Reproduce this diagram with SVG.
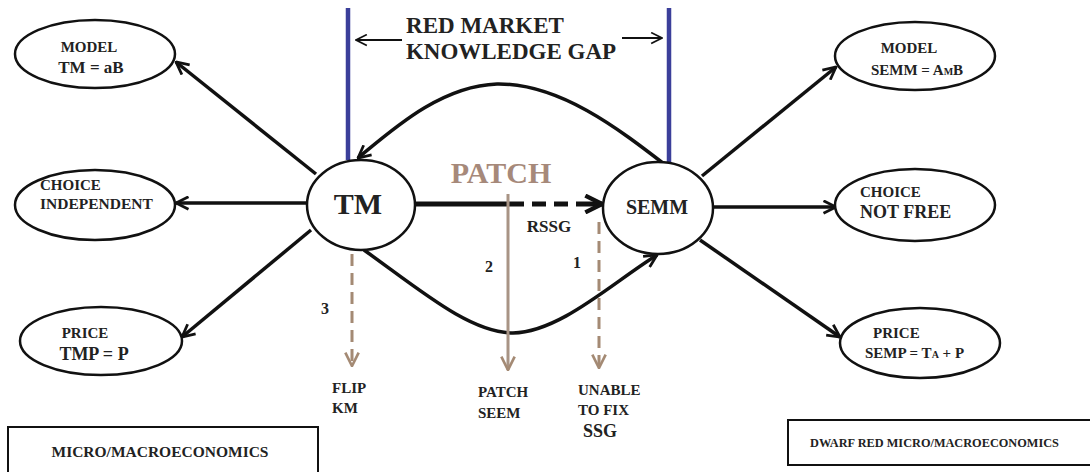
<svg xmlns="http://www.w3.org/2000/svg" width="1090" height="472" viewBox="0 0 1090 472">
<defs>
<style>
.node ellipse{fill:#fff;stroke:#111;stroke-width:2.5}
.t{font-family:"Liberation Serif","Times New Roman",serif;font-weight:bold;fill:#222}
.s15{font-size:15px}
.conn{fill:none;stroke:#111;stroke-width:3.5}
.tan{fill:none;stroke:#a48a74;stroke-width:3}
.tanS{fill:none;stroke:#a89485;stroke-width:3}
.blue{stroke:#3b3f9a;stroke-width:4.5}
</style>
<marker id="ah" viewBox="0 0 12 12" refX="11" refY="6" markerWidth="15" markerHeight="15" markerUnits="userSpaceOnUse" orient="auto">
<path d="M1,1 L11,6 L1,11" fill="none" stroke="#111" stroke-width="2.2"/>
</marker>
<marker id="ahBig" viewBox="0 0 12 12" refX="11" refY="6" markerWidth="20" markerHeight="20" markerUnits="userSpaceOnUse" orient="auto">
<path d="M1,1 L11,6 L1,11" fill="none" stroke="#111" stroke-width="2.6"/>
</marker>
<marker id="ahTan" viewBox="0 0 12 12" refX="11" refY="6" markerWidth="16" markerHeight="16" markerUnits="userSpaceOnUse" orient="auto">
<path d="M1,1 L11,6 L1,11" fill="none" stroke="#a48a74" stroke-width="2"/>
</marker>
<marker id="ahThin" viewBox="0 0 12 12" refX="11" refY="6" markerWidth="13" markerHeight="13" markerUnits="userSpaceOnUse" orient="auto">
<path d="M1,1 L11,6 L1,11" fill="none" stroke="#111" stroke-width="1.6"/>
</marker>
</defs>
<rect width="1090" height="472" fill="#fff"/>

<g id="connectors">
<line class="blue" x1="348" y1="8" x2="348" y2="160"/>
<line class="blue" x1="669" y1="8" x2="669" y2="168"/>
<line x1="402" y1="40" x2="356" y2="40" stroke="#111" stroke-width="1.8" marker-end="url(#ahThin)"/>
<line x1="622" y1="38" x2="662" y2="38" stroke="#111" stroke-width="1.8" marker-end="url(#ahThin)"/>
<line class="conn" x1="316" y1="174" x2="176" y2="62" marker-end="url(#ah)"/>
<line class="conn" x1="307" y1="203" x2="176" y2="203" marker-end="url(#ah)"/>
<line class="conn" x1="311" y1="230" x2="182" y2="337" marker-end="url(#ah)"/>
<line class="conn" x1="702" y1="176" x2="836" y2="67" marker-end="url(#ah)"/>
<line class="conn" x1="713" y1="207" x2="836" y2="207" marker-end="url(#ah)"/>
<line class="conn" x1="700" y1="240" x2="840" y2="337" marker-end="url(#ah)"/>
<path class="conn" d="M668,167 C620,130 560,83 497,84 C440,86 392,130 358,158" marker-end="url(#ah)"/>
<path class="conn" d="M364,250 C420,290 470,333 513,333 C560,332 612,283 657,255" marker-end="url(#ah)"/>
<line x1="415" y1="204" x2="510" y2="204" stroke="#111" stroke-width="5"/>
<line x1="510" y1="204" x2="590" y2="204" stroke="#111" stroke-width="5" stroke-dasharray="14,8"/>
<line x1="590" y1="204" x2="602" y2="204" stroke="#111" stroke-width="5" marker-end="url(#ahBig)"/>
<line class="tanS" x1="508" y1="194" x2="508" y2="370" marker-end="url(#ahTan)"/>
<line class="tan" x1="599" y1="222" x2="599" y2="368" stroke-dasharray="12,7" marker-end="url(#ahTan)"/>
<line class="tan" x1="352" y1="254" x2="352" y2="366" stroke-dasharray="12,7" marker-end="url(#ahTan)"/>
</g>

<g id="gap-label">
<text class="t" x="485" y="33" font-size="23" text-anchor="middle">RED MARKET</text>
<text class="t" x="511" y="59" font-size="23" text-anchor="middle">KNOWLEDGE GAP</text>
</g>

<g id="patch-label">
<text class="t" x="501" y="183" font-size="30" text-anchor="middle" style="fill:#a6897a">PATCH</text>
<text class="t" x="549" y="232" font-size="17" text-anchor="middle">RSSG</text>
</g>

<g id="node-tm" class="node">
<ellipse cx="361" cy="205" rx="54" ry="45"/>
<text class="t" x="358" y="214" font-size="30" text-anchor="middle">TM</text>
</g>
<g id="node-semm" class="node">
<ellipse cx="658" cy="208" rx="55" ry="46"/>
<text class="t" x="657" y="214" font-size="20" text-anchor="middle">SEMM</text>
</g>

<g id="node-model-tm" class="node">
<ellipse cx="95" cy="54" rx="80" ry="34"/>
<text class="t s15" x="89" y="52" text-anchor="middle">MODEL</text>
<text class="t" x="91" y="73" font-size="17" text-anchor="middle">TM = aB</text>
</g>
<g id="node-choice-tm" class="node">
<ellipse cx="95" cy="205" rx="80" ry="35"/>
<text class="t s15" x="40" y="190">CHOICE</text>
<text class="t" x="40" y="209" font-size="15.5">INDEPENDENT</text>
</g>
<g id="node-price-tm" class="node">
<ellipse cx="101" cy="341" rx="81" ry="34"/>
<text class="t s15" x="85" y="338" text-anchor="middle">PRICE</text>
<text class="t" x="94" y="360" font-size="18" text-anchor="middle">TMP = P</text>
</g>

<g id="node-model-semm" class="node">
<ellipse cx="915" cy="56" rx="80" ry="34"/>
<text class="t s15" x="909" y="53" text-anchor="middle">MODEL</text>
<text class="t s15" x="917" y="75" text-anchor="middle">SEMM = A<tspan font-size="10">M</tspan>B</text>
</g>
<g id="node-choice-semm" class="node">
<ellipse cx="915" cy="205" rx="80" ry="36"/>
<text class="t s15" x="860" y="197">CHOICE</text>
<text class="t" x="860" y="218" font-size="18">NOT FREE</text>
</g>
<g id="node-price-semp" class="node">
<ellipse cx="920" cy="343" rx="80" ry="35"/>
<text class="t s15" x="873" y="338">PRICE</text>
<text class="t s15" x="865" y="358">SEMP = T<tspan font-size="10">A</tspan> + P</text>
</g>

<g id="step-labels">
<text class="t" x="325" y="314" font-size="16" text-anchor="middle">3</text>
<text class="t" x="489" y="272" font-size="16" text-anchor="middle">2</text>
<text class="t" x="577" y="268" font-size="16" text-anchor="middle">1</text>
<text class="t s15" x="332" y="393">FLIP</text>
<text class="t s15" x="332" y="413">KM</text>
<text class="t s15" x="478" y="397">PATCH</text>
<text class="t s15" x="478" y="418">SEEM</text>
<text class="t s15" x="578" y="395">UNABLE</text>
<text class="t s15" x="578" y="415">TO FIX</text>
<text class="t" x="583" y="437" font-size="18">SSG</text>
</g>

<g id="box-left">
<rect x="8" y="427" width="310" height="50" fill="#fff" stroke="#111" stroke-width="2"/>
<text class="t" x="160" y="457" font-size="15.5" text-anchor="middle">MICRO/MACROECONOMICS</text>
</g>
<g id="box-right">
<rect x="788" y="420" width="305" height="45" fill="#fff" stroke="#111" stroke-width="2"/>
<text class="t" x="810" y="447" font-size="12.3">DWARF RED MICRO/MACROECONOMICS</text>
</g>
</svg>
